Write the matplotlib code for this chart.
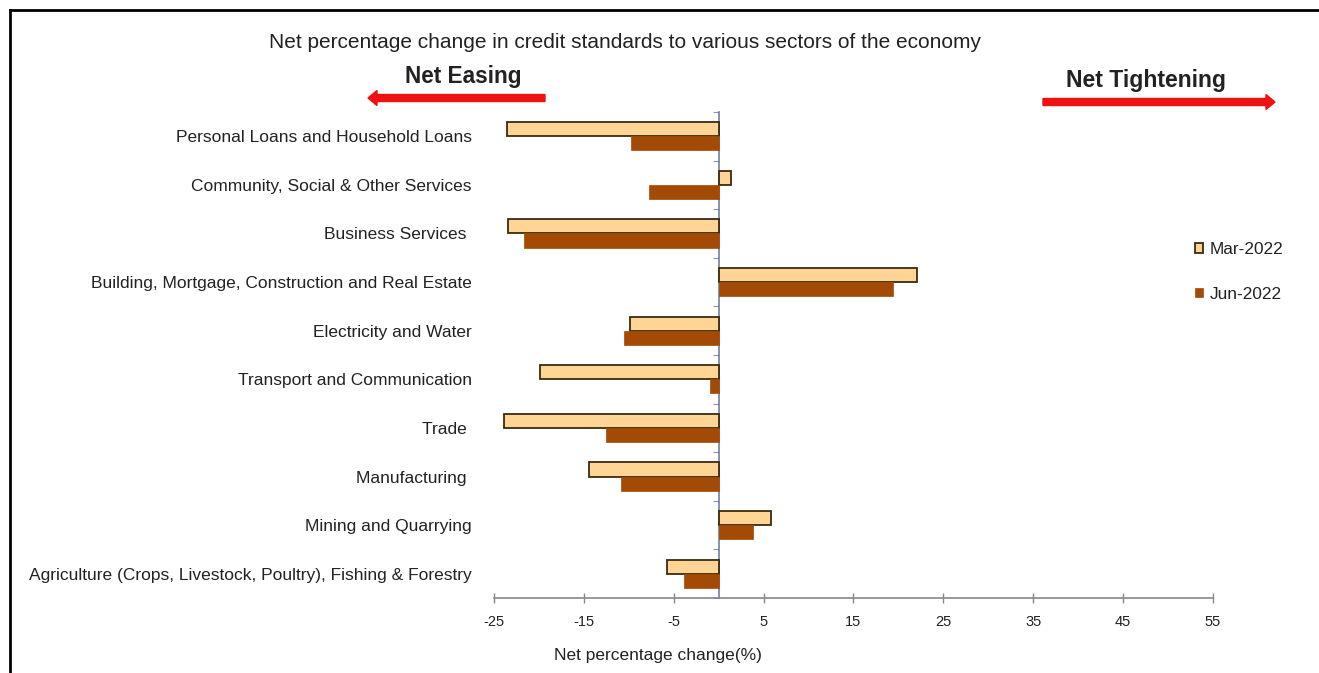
import matplotlib
matplotlib.use("Agg")
import matplotlib.pyplot as plt
from matplotlib.lines import Line2D
from matplotlib.patches import FancyArrow
import numpy as np

plt.rcParams['font.family'] = ['Liberation Sans', 'DejaVu Sans']

categories = [
    "Personal Loans and Household Loans",
    "Community, Social & Other Services",
    "Business Services ",
    "Building, Mortgage, Construction and Real Estate",
    "Electricity and Water",
    "Transport and Communication",
    "Trade ",
    "Manufacturing ",
    "Mining and Quarrying",
    "Agriculture (Crops, Livestock, Poultry), Fishing & Forestry",
]
mar_2022 = [-23.6, 1.4, -23.4, 22.1, -9.9, -19.9, -23.9, -14.4, 5.8, -5.8]
jun_2022 = [-9.8, -7.8, -21.7, 19.4, -10.5, -1.0, -12.5, -10.9, 3.8, -3.9]
series_names = ["Mar-2022", "Jun-2022"]
xticks = [-25, -15, -5, 5, 15, 25, 35, 45, 55]

mar_color = '#FFD596'
jun_color = '#A34A05'
text_color = '#222222'

fig = plt.figure(figsize=(13.19, 6.73), dpi=100)
ax = fig.add_axes([0.3745, 0.1114, 0.5451, 0.7222])

y = np.arange(len(categories))
h = 0.29
ax.barh(y - h / 2, mar_2022, height=h, color=mar_color, edgecolor='#3a2a10',
        linewidth=1.3, label=series_names[0], zorder=3)
ax.barh(y + h / 2, jun_2022, height=h, color=jun_color, edgecolor=jun_color,
        linewidth=0.5, label=series_names[1], zorder=3)

ax.set_xlim(-25, 55)
ax.set_ylim(len(categories) - 0.5, -0.5)
ax.set_xticks(xticks)
ax.set_xticklabels([str(t) for t in xticks], fontsize=10.5, color=text_color)
ax.tick_params(axis='x', direction='inout', length=7, width=1, color='#888888', pad=9)

ax.set_yticks(y)
ax.set_yticklabels(categories, fontsize=12.5, color=text_color)
ax.tick_params(axis='y', length=0, pad=16)

for s in ['top', 'right', 'left']:
    ax.spines[s].set_visible(False)
ax.spines['bottom'].set_color('#888888')
ax.spines['bottom'].set_linewidth(1.2)

# vertical zero axis
sec = ax.secondary_yaxis(location=25 / 80)
sec.set_yticks(np.arange(len(categories) + 1) - 0.5)
sec.set_yticklabels([])
sec.tick_params(axis='y', direction='out', length=4, color='#8a96b0')
sec.spines['left'].set_color('#7080a0')
sec.spines['left'].set_linewidth(1.2)

ax.set_xlabel("Net percentage change(%)", fontsize=12.5, color=text_color)
ax.xaxis.set_label_coords(0.228, -0.103)

leg = ax.legend(loc='upper left', bbox_to_anchor=(0.894, 0.663), bbox_transform=fig.transFigure,
                frameon=False, fontsize=12.4, handlelength=0.5, handleheight=0.5,
                handletextpad=0.35, labelspacing=1.7, labelcolor=text_color)

fig.text(625 / 1319, 1 - 43 / 673, "Net percentage change in credit standards to various sectors of the economy",
         ha='center', va='center', fontsize=15, color=text_color)
fig.text(463 / 1319, 1 - 77 / 673, "Net Easing", ha='center', va='center', fontsize=16.3,
         fontweight='bold', color=text_color)
fig.text(1146 / 1319, 1 - 80 / 673, "Net Tightening", ha='center', va='center', fontsize=16.6,
         fontweight='bold', color=text_color)

W, H = 1319, 673
fig.patches.append(FancyArrow(545 / W, 1 - 98 / H, -177 / W, 0, width=7 / H, head_width=15 / H,
                              head_length=9 / W, length_includes_head=True, color='#EE1111',
                              transform=fig.transFigure, figure=fig))
fig.patches.append(FancyArrow(1043 / W, 1 - 102 / H, 232 / W, 0, width=7 / H, head_width=15 / H,
                              head_length=9 / W, length_includes_head=True, color='#EE1111',
                              transform=fig.transFigure, figure=fig))

# border lines
fig.add_artist(Line2D([10 / W, 1.01], [1 - 10 / H, 1 - 10 / H], color='black', lw=2,
                      transform=fig.transFigure))
fig.add_artist(Line2D([10 / W, 10 / W], [1 - 10 / H, -0.01], color='black', lw=2,
                      transform=fig.transFigure))

fig.savefig("out.png", dpi=100)
